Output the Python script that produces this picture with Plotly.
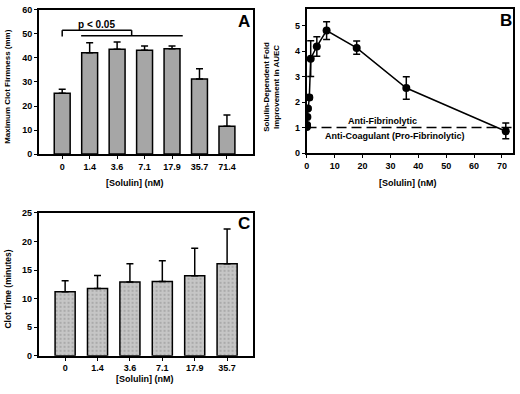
import plotly.graph_objects as go

# ---------------- data ----------------
cats_a = ["0", "1.4", "3.6", "7.1", "17.9", "35.7", "71.4"]
mcf_mean = [25.3, 42.2, 43.6, 43.2, 43.8, 31.2, 11.6]
mcf_err = [1.7, 4.1, 3.0, 1.8, 1.2, 4.3, 4.7]

conc_b = [0.0, 0.1, 0.2, 0.4, 0.9, 1.4, 3.6, 7.1, 17.9, 35.7, 71.4]
fold_b = [1.02, 1.1, 1.42, 1.75, 2.18, 3.7, 4.18, 4.8, 4.12, 2.55, 0.86]
fold_err_up = [0.05, 0.05, 0.05, 0.05, 0.08, 0.7, 0.38, 0.35, 0.27, 0.44, 0.32]
fold_err_dn = [0.05, 0.05, 0.05, 0.05, 0.08, 0.7, 0.38, 0.35, 0.25, 0.44, 0.30]

cats_c = ["0", "1.4", "3.6", "7.1", "17.9", "35.7"]
ct_mean = [11.2, 11.8, 12.9, 13.0, 14.0, 16.1]
ct_err = [1.95, 2.25, 3.2, 3.65, 4.8, 6.1]

FONT = "Liberation Sans, Arial, sans-serif"
W, H = 520, 394


def px(x):
    return x / W


def py(y):
    return 1 - y / H


fig = go.Figure()

fig.add_trace(go.Bar(
    x=cats_a, y=mcf_mean, xaxis="x", yaxis="y", width=0.58,
    marker=dict(color="#a6a6a6", line=dict(color="black", width=1.5)),
    error_y=dict(type="data", array=mcf_err, arrayminus=[0] * len(mcf_err),
                 symmetric=False, color="black", thickness=1.5, width=3.5),
    showlegend=False))

fig.add_trace(go.Scatter(
    x=conc_b, y=fold_b, xaxis="x2", yaxis="y2", mode="lines+markers",
    line=dict(color="black", width=1.5),
    marker=dict(color="black", size=8),
    error_y=dict(type="data", array=fold_err_up, arrayminus=fold_err_dn,
                 symmetric=False, color="black", thickness=1.5, width=3.5),
    showlegend=False))

fig.add_trace(go.Bar(
    x=cats_c, y=ct_mean, xaxis="x3", yaxis="y3", width=0.62,
    marker=dict(color="#c2c2c2", line=dict(color="black", width=1.5),
                pattern=dict(shape=".", fgcolor="#8c8c8c", bgcolor="#c6c6c6",
                             size=4, solidity=0.25)),
    error_y=dict(type="data", array=ct_err, arrayminus=[0] * len(ct_err),
                 symmetric=False, color="black", thickness=1.5, width=3.5),
    showlegend=False))

axis_common = dict(showline=True, linecolor="black", linewidth=1.5, mirror=True,
                   ticks="outside", ticklen=3, tickwidth=1.2, tickcolor="black",
                   showgrid=False, zeroline=False,
                   tickfont=dict(family=FONT, size=9, color="black", weight="bold"))

fig.update_layout(
    width=W, height=H, margin=dict(l=0, r=0, t=0, b=0),
    paper_bgcolor="white", plot_bgcolor="white",
    font=dict(family=FONT, color="black"),
    xaxis=dict(domain=[px(37), px(252)], anchor="y", range=[-0.85, 6.95], **axis_common),
    yaxis=dict(domain=[py(153), py(5)], anchor="x", range=[0, 60], dtick=10, **axis_common),
    xaxis2=dict(domain=[px(305.7), px(513)], anchor="y2", range=[-0.1, 74.0], dtick=10, **axis_common),
    yaxis2=dict(domain=[py(152), py(4)], anchor="x2", range=[0, 5.65], dtick=1, **axis_common),
    xaxis3=dict(domain=[px(36.7), px(252)], anchor="y3", range=[-0.82, 5.8], **axis_common),
    yaxis3=dict(domain=[py(360), py(213.3)], anchor="x3", range=[0, 25], dtick=5, **axis_common),
)

# significance bracket in panel A
br = dict(color="black", width=1.5)
fig.add_shape(type="line", xref="x", yref="y", x0=0, x1=0, y0=48.9, y1=51.5, line=br)
fig.add_shape(type="line", xref="x", yref="y", x0=0, x1=2.53, y0=51.5, y1=51.5, line=br)
fig.add_shape(type="line", xref="x", yref="y", x0=2.53, x1=2.53, y0=51.5, y1=49.3, line=br)
fig.add_shape(type="line", xref="x", yref="y", x0=0.69, x1=4.39, y0=49.2, y1=49.2, line=br)

# threshold line in panel B
fig.add_shape(type="line", xref="x2 domain", yref="y2", x0=0, x1=1, y0=1, y1=1,
              line=dict(color="black", width=1.5, dash="10px,5px"))

bold = dict(family=FONT, color="black", weight="bold")
ann = [
    dict(text="p < 0.05", x=1.24, y=53.9, xref="x", yref="y", font=dict(size=10, **bold)),
    dict(text="A", x=px(243), y=py(17), xref="paper", yref="paper", font=dict(size=17, **bold)),
    dict(text="B", x=px(506), y=py(16), xref="paper", yref="paper", font=dict(size=17, **bold)),
    dict(text="C", x=px(243), y=py(224), xref="paper", yref="paper", font=dict(size=17, **bold)),
    dict(text="Anti-Fibrinolytic", x=27.1, y=1.25, xref="x2", yref="y2", font=dict(size=9, **bold)),
    dict(text="Anti-Coagulant (Pro-Fibrinolytic)", x=31.8, y=0.67, xref="x2", yref="y2",
         font=dict(size=9, **bold)),
    dict(text="[Solulin] (nM)", x=px(133), y=py(183), xref="paper", yref="paper", font=dict(size=9, **bold)),
    dict(text="[Solulin] (nM)", x=px(407), y=py(183), xref="paper", yref="paper", font=dict(size=9, **bold)),
    dict(text="[Solulin] (nM)", x=px(143), y=py(384), xref="paper", yref="paper", font=dict(size=9, **bold)),
    dict(text="Maximum Clot Firmness (mm)", x=px(6), y=py(83), xref="paper", yref="paper",
         textangle=-90, font=dict(size=8, **bold)),
    dict(text="Solulin-Dependent Fold<br>Improvement in AUEC", x=px(271), y=py(84), xref="paper",
         yref="paper", textangle=-90, font=dict(size=8, **bold)),
    dict(text="Clot Time (minutes)", x=px(6), y=py(291), xref="paper", yref="paper",
         textangle=-90, font=dict(size=8.5, **bold)),
]
for a in ann:
    a.setdefault("showarrow", False)
    a.setdefault("xanchor", "center")
    a.setdefault("yanchor", "middle")
    fig.add_annotation(**a)

fig.write_html("out.html", config={"displayModeBar": False},
               post_script="document.body.style.margin='0px';")
